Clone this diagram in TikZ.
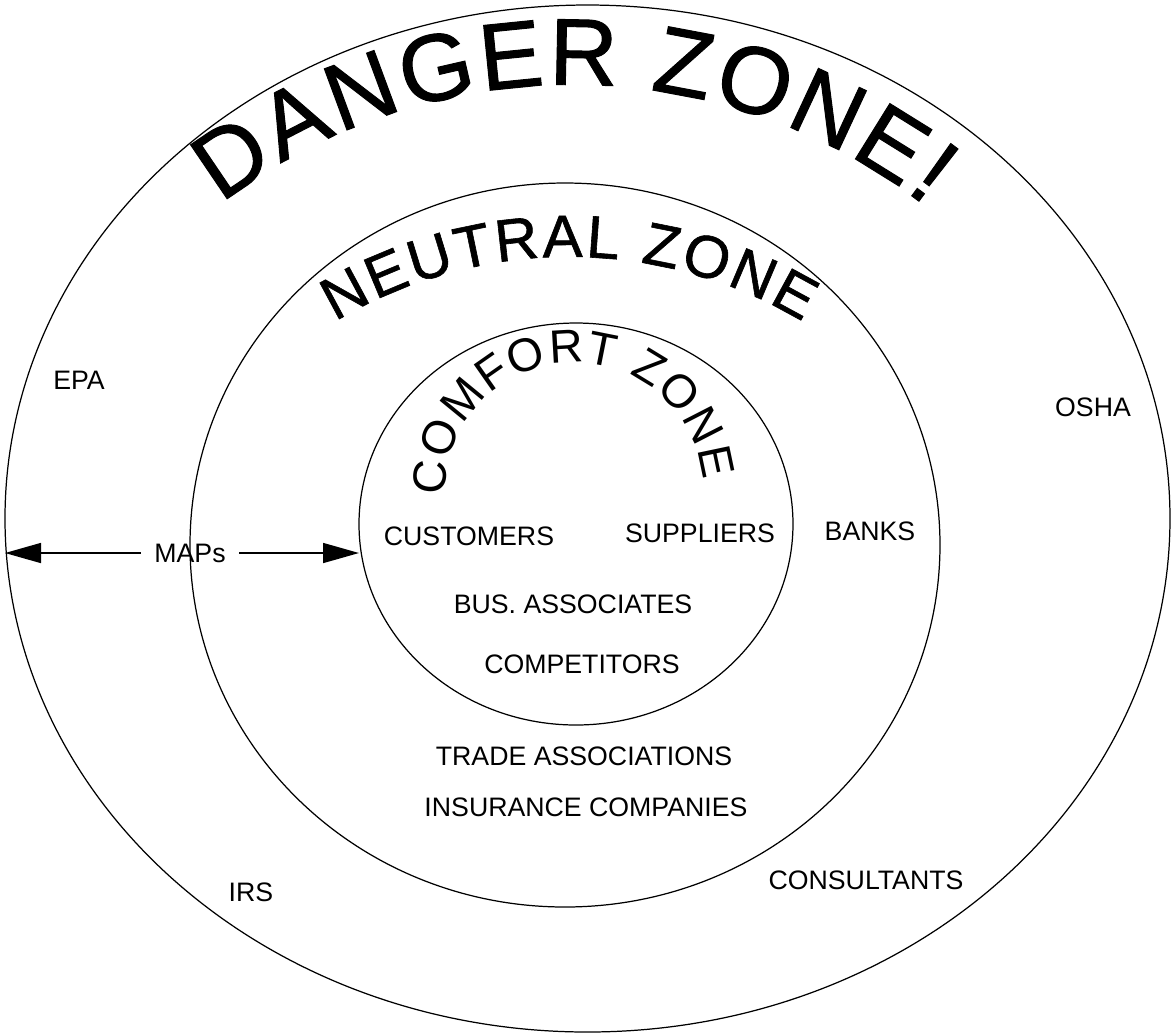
\documentclass[tikz,border=0pt]{standalone}
\usepackage{fontspec}
\newfontfamily\arialfont{Liberation Sans}
\newfontfamily\archfont[FakeBold=1]{Liberation Sans}
\usetikzlibrary{shapes.geometric,arrows.meta,decorations.text}
\newcommand{\labelfont}{\arialfont\fontsize{7.6pt}{9pt}\selectfont}
\newcommand{\dangerfont}{\archfont\fontsize{27pt}{32pt}\selectfont}
\newcommand{\neutralfont}{\archfont\fontsize{17pt}{20pt}\selectfont}
\newcommand{\comfortfont}{\arialfont\fontsize{13.3pt}{16pt}\selectfont}
\tikzset{
  zone/.style={ellipse, draw, line width=0.35pt, inner sep=0pt, outer sep=0pt},
  party/.style={font=\labelfont, inner sep=0pt},
  zonetitle/.style={decorate, decoration={text along path, text align=fit to path, text={#1}}},
  mapsarrow/.style={-{Triangle[length=3.6mm,width=2mm]}, line width=0.45pt}
}
\begin{document}
\begin{tikzpicture}[x=0.1mm, y=0.1mm]
   \useasboundingbox (0,0) rectangle (1173,-1034);
   % the three zones
   \node[zone, minimum width=116.5mm, minimum height=102.7mm] (danger) at (587.5,-518.5) {};
   \node[zone, minimum width=75mm, minimum height=72.4mm] (neutral) at (565,-545) {};
   \node[zone, minimum width=43.4mm, minimum height=40.2mm] (comfort) at (576,-524) {};
   % arched titles
   \path[zonetitle={|\dangerfont|DANGER ZONE!}] (221.3,-204) arc[start angle=127.5, end angle=52.1, radius=576];
   \path[zonetitle={|\neutralfont|NEUTRAL ZONE}] (335.2,-321.8) arc[start angle=121, end angle=59, radius=454];
   \path[zonetitle={|\comfortfont|COMFORT ZONE}] (445.6,-495.9) arc[start angle=182, end angle=5, radius=129];
   % danger zone
   \node[party] (epa) at (79,-380) {EPA};
   \node[party] (osha) at (1093,-407) {OSHA};
   \node[party] (irs) at (251,-892) {IRS};
   \node[party] (consultants) at (866,-880) {CONSULTANTS};
   % neutral zone
   \node[party] (banks) at (870,-531) {BANKS};
   \node[party] (trade) at (584,-756) {TRADE ASSOCIATIONS};
   \node[party] (insurance) at (586,-807) {INSURANCE COMPANIES};
   % comfort zone
   \node[party] (customers) at (469,-536) {CUSTOMERS};
   \node[party] (suppliers) at (700,-533) {SUPPLIERS};
   \node[party] (associates) at (573,-604) {BUS. ASSOCIATES};
   \node[party] (competitors) at (582,-664) {COMPETITORS};
   % MAPs
   \node[party, inner sep=1.3mm] (maps) at (190,-553) {MAPs};
   \draw[mapsarrow] (maps) -- (maps -| danger.west);
   \draw[mapsarrow] (maps) -- (maps -| comfort.west);
\end{tikzpicture}
\end{document}
